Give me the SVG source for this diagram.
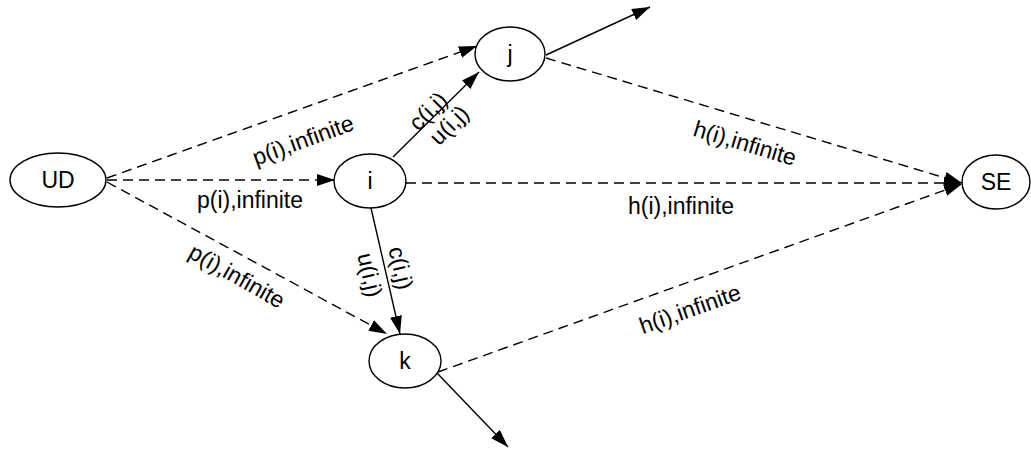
<svg xmlns="http://www.w3.org/2000/svg" width="1031" height="449" viewBox="0 0 1031 449">
  <style>
    .node ellipse { fill: #ffffff; stroke: #000000; stroke-width: 1.4; }
    .node text, .lbl { font-family: "Liberation Sans", Arial, sans-serif; font-size: 23px; fill: #000000; text-anchor: middle; dominant-baseline: central; }
    .flow { fill: none; stroke: #000000; stroke-width: 1.4; }
    .dash { stroke-dasharray: 10 6; }
  </style>
  <defs>
    <marker id="arrow" markerUnits="userSpaceOnUse" markerWidth="19" markerHeight="13" refX="18" refY="6" orient="auto">
      <path d="M0,0 L18,6 L0,12 z" fill="#000000"/>
    </marker>
  </defs>
  <rect width="1031" height="449" fill="#ffffff"/>

  <!-- connectors -->
  <g id="connectors">
    <line class="flow dash" x1="107" y1="178" x2="477" y2="46" marker-end="url(#arrow)"/>
    <line class="flow dash" x1="107" y1="180" x2="335" y2="180" marker-end="url(#arrow)"/>
    <line class="flow dash" x1="107" y1="182" x2="387" y2="334" marker-end="url(#arrow)"/>
    <line class="flow" x1="393" y1="157" x2="479" y2="72" marker-end="url(#arrow)"/>
    <line class="flow" x1="371" y1="208" x2="400" y2="334" marker-end="url(#arrow)"/>
    <line class="flow" x1="546" y1="55" x2="650" y2="7" marker-end="url(#arrow)"/>
    <line class="flow" x1="437" y1="373" x2="508" y2="447" marker-end="url(#arrow)"/>
    <line class="flow dash" x1="546" y1="58" x2="962" y2="183" marker-end="url(#arrow)"/>
    <line class="flow dash" x1="406" y1="183" x2="962" y2="183" marker-end="url(#arrow)"/>
    <line class="flow dash" x1="438" y1="372" x2="962" y2="184" marker-end="url(#arrow)"/>

    <text class="lbl" transform="translate(303,140) rotate(-20)">p(i),infinite</text>
    <text class="lbl" transform="translate(250,200)">p(i),infinite</text>
    <text class="lbl" transform="translate(237,276) rotate(29.5)">p(i),infinite</text>
    <text class="lbl" transform="translate(428,111) rotate(-45)">c(i,j)</text>
    <text class="lbl" transform="translate(449,125) rotate(-45)">u(i,j)</text>
    <text class="lbl" transform="translate(401,268) rotate(77)">c(i,j)</text>
    <text class="lbl" transform="translate(370,275) rotate(77)">u(i,j)</text>
    <text class="lbl" transform="translate(745,143) rotate(16.7)">h(i),infinite</text>
    <text class="lbl" transform="translate(681,206)">h(i),infinite</text>
    <text class="lbl" transform="translate(690,309) rotate(-19.5)">h(i),infinite</text>
  </g>

  <!-- nodes -->
  <g id="UD" class="node">
    <ellipse cx="58" cy="180" rx="48" ry="27"/>
    <text x="58" y="180">UD</text>
  </g>
  <g id="i" class="node">
    <ellipse cx="370" cy="181" rx="36" ry="27"/>
    <text x="370" y="181">i</text>
  </g>
  <g id="j" class="node">
    <ellipse cx="510" cy="54" rx="35" ry="27"/>
    <text x="510" y="54">j</text>
  </g>
  <g id="k" class="node">
    <ellipse cx="405" cy="361" rx="36" ry="27"/>
    <text x="405" y="361">k</text>
  </g>
  <g id="SE" class="node">
    <ellipse cx="996" cy="182" rx="34" ry="27"/>
    <text x="996" y="182">SE</text>
  </g>
</svg>
